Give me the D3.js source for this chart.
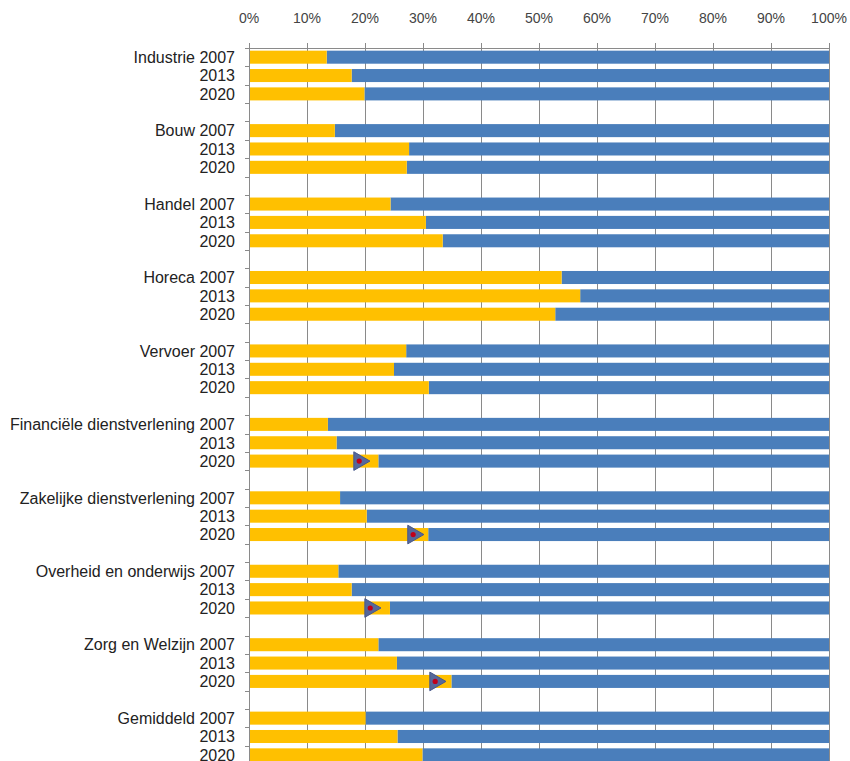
<!DOCTYPE html>
<html>
<head>
<meta charset="utf-8">
<script src="https://cdn.jsdelivr.net/npm/d3@7"></script>
<style>
  body { margin: 0; background: #fff; }
  svg { display: block; font-family: "Liberation Sans", Arial, sans-serif; }
</style>
</head>
<body>
<div id="visualization"></div>
<script>
// sectors, in order from top to bottom
var sectors = ["Industrie", "Bouw", "Handel", "Horeca", "Vervoer",
    "Financiële dienstverlening", "Zakelijke dienstverlening",
    "Overheid en onderwijs", "Zorg en Welzijn", "Gemiddeld"];
var years = ["2007", "2013", "2020"];

// yellow share (%) per sector, one array per year
var share2007 = [13.4, 14.8, 24.4, 53.9, 27.1, 13.6, 15.7, 15.4, 22.3, 20.1];
var share2013 = [17.7, 27.6, 30.5, 57.1, 25.0, 15.1, 20.3, 17.7, 25.5, 25.6];
var share2020 = [19.9, 27.2, 33.4, 52.8, 31.0, 22.3, 30.9, 24.3, 34.9, 29.9];

// triangle markers on the 2020 bar
var markerSectors = ["Financiële dienstverlening", "Zakelijke dienstverlening",
    "Overheid en onderwijs", "Zorg en Welzijn"];
var markerValues = [19.0, 28.3, 20.9, 32.1];

var tickValues = [0, 10, 20, 30, 40, 50, 60, 70, 80, 90, 100];

var width = 850, height = 761;
var margin = {top: 48, left: 249, right: 21};
var slot = 18.36;

// build rows: three years per sector plus an empty spacer slot
var rows = [];
var shares = [share2007, share2013, share2020];
sectors.forEach(function(s, i) {
    years.forEach(function(y, j) {
        rows.push({key: s + "|" + y, sector: s, year: y, value: shares[j][i],
                   label: j == 0 ? s + " " + y : y});
    });
    rows.push({key: s + "|gap", sector: s, year: null});
});

var x = d3.scaleLinear().domain([0, 100]).range([margin.left, width - margin.right]);
var y = d3.scaleBand()
    .domain(rows.map(function(d) { return d.key; }))
    .range([margin.top, margin.top + rows.length * slot])
    .paddingInner(0.29)
    .paddingOuter(0.145);

var svg = d3.select("#visualization").append("svg")
    .attr("width", width)
    .attr("height", height);

// vertical gridlines
svg.append("g")
    .selectAll("line")
    .data(tickValues)
  .enter().append("line")
    .attr("x1", function(d) { return x(d) + 0.5; })
    .attr("x2", function(d) { return x(d) + 0.5; })
    .attr("y1", margin.top - 5)
    .attr("y2", height)
    .attr("stroke", "#8a8a8a")
    .attr("stroke-width", 1);

// top axis line
svg.append("line")
    .attr("x1", x(0)).attr("x2", x(100))
    .attr("y1", margin.top + 0.5).attr("y2", margin.top + 0.5)
    .attr("stroke", "#8a8a8a");

// top tick labels
svg.append("g")
    .selectAll("text")
    .data(tickValues)
  .enter().append("text")
    .attr("x", function(d) { return x(d); })
    .attr("y", 23)
    .attr("text-anchor", "middle")
    .attr("font-size", "14px")
    .attr("fill", "#444")
    .text(function(d) { return d + "%"; });

// left tick marks at slot borders
var borders = rows.map(function(d) { return y(d.key) - y.step() * y.paddingInner() / 2; });
svg.append("g")
    .selectAll("line")
    .data(borders)
  .enter().append("line")
    .attr("x1", x(0) - 4).attr("x2", x(0))
    .attr("y1", function(d) { return Math.round(d) + 0.5; })
    .attr("y2", function(d) { return Math.round(d) + 0.5; })
    .attr("stroke", "#8a8a8a");

var bars = rows.filter(function(d) { return d.year; });

// blue remainder
svg.append("g")
    .selectAll("rect")
    .data(bars)
  .enter().append("rect")
    .attr("x", function(d) { return x(d.value); })
    .attr("y", function(d) { return y(d.key); })
    .attr("width", function(d) { return x(100) - x(d.value); })
    .attr("height", y.bandwidth())
    .attr("fill", "#4a7ebb");

// yellow share
svg.append("g")
    .selectAll("rect")
    .data(bars)
  .enter().append("rect")
    .attr("x", x(0) + 1)
    .attr("y", function(d) { return y(d.key); })
    .attr("width", function(d) { return x(d.value) - x(0) - 1; })
    .attr("height", y.bandwidth())
    .attr("fill", "#ffc000");

// row labels
svg.append("g")
    .selectAll("text")
    .data(bars)
  .enter().append("text")
    .attr("x", 235)
    .attr("y", function(d) { return y(d.key) + y.bandwidth() / 2; })
    .attr("dy", "0.36em")
    .attr("text-anchor", "end")
    .attr("font-size", "16px")
    .attr("fill", "#222")
    .text(function(d) { return d.label; });

// markers
var tri = d3.symbol().type(d3.symbolTriangle).size(150);
var marks = svg.append("g")
    .selectAll("g")
    .data(markerSectors)
  .enter().append("g")
    .attr("transform", function(d, i) {
        return "translate(" + x(markerValues[i]) + "," +
            (y(d + "|2020") + y.bandwidth() / 2) + ")";
    });
marks.append("path")
    .attr("d", tri)
    .attr("transform", "rotate(90)")
    .attr("fill", "#56689a")
    .attr("stroke", "#46578a")
    .attr("stroke-width", 1);
marks.append("circle")
    .attr("r", 2.6)
    .attr("fill", "#c0001a");
</script>
</body>
</html>
